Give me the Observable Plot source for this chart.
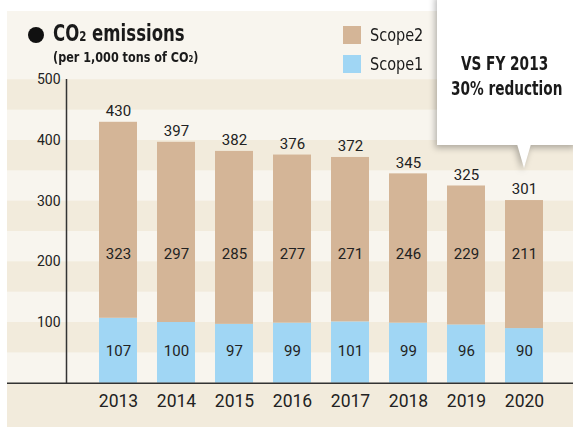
<!DOCTYPE html>
<html>
<head>
<meta charset="utf-8">
<script src="https://cdn.jsdelivr.net/npm/d3@7"></script>
<script src="https://cdn.jsdelivr.net/npm/@observablehq/plot@0.6"></script>
<style>
  html, body { margin: 0; padding: 0; background: #ffffff; }
  body { width: 573px; height: 427px; position: relative; overflow: hidden; }
  #panel { position: absolute; left: 7px; top: 11px; width: 566px; height: 416px; background: #f8f5ee; }
  #chart { position: absolute; left: 0; top: 0; }
  .narrow { font-family: "Liberation Sans Narrow", "DejaVu Sans Condensed", "Roboto", sans-serif; color: #1a1a1a; }
  .sq { display: inline-block; transform-origin: left center; white-space: nowrap; }
  #bullet { position: absolute; left: 28px; top: 27px; width: 16px; height: 16px; border-radius: 50%; background: #111; }
  #title { position: absolute; left: 53px; top: 22px; font-size: 23px; font-weight: bold; line-height: 23px; white-space: nowrap; }
  #title .sq { transform: scaleX(0.8); }
  #subtitle { position: absolute; left: 53px; top: 50px; font-size: 14.5px; font-weight: bold; line-height: 15px; white-space: nowrap; }
  #subtitle .sq { transform: scaleX(0.86); }
  .sub { font-size: 0.62em; }
  #legend { position: absolute; left: 343px; top: 26px; }
  .lg { display: flex; align-items: center; height: 18px; margin-bottom: 11px; }
  .sw { width: 18px; height: 18px; margin-right: 9px; flex: none; }
  .lt { font-size: 18.5px; line-height: 18px; white-space: nowrap; display: inline-block; transform: scaleX(0.87); transform-origin: left center; }
  #callout { position: absolute; left: 437px; top: -6px; width: 140px; height: 151px; filter: drop-shadow(-2px 3px 3px rgba(0,0,0,0.28)); }
  #box { position: absolute; left: 0; top: 0; width: 140px; height: 151px; background: #fff; }
  #ptr { position: absolute; top: 150px; width: 0; height: 0; border-left: 7px solid transparent; border-right: 7px solid transparent; border-top: 24px solid #fff; }
  #ctext { position: absolute; left: 0; top: 57px; width: 136px; text-align: center; font-size: 19px; font-weight: bold; line-height: 25px; white-space: nowrap; }
  #ctext .sq { transform: scaleX(0.8); transform-origin: center center; }
</style>
</head>
<body>
<div id="panel"></div>
<div id="chart"></div>
<div id="bullet"></div>
<div id="title" class="narrow"><span class="sq">CO<span class="sub">2</span> emissions</span></div>
<div id="subtitle" class="narrow"><span class="sq">(per 1,000 tons of CO<span class="sub">2</span>)</span></div>
<div id="legend" class="narrow"></div>
<div id="callout" class="narrow"><div id="box"></div><div id="ptr"></div><div id="ctext"><span class="sq">VS FY 2013</span><br><span class="sq">30% reduction</span></div></div>
<script>
// ---- data ----
const years = ["2013", "2014", "2015", "2016", "2017", "2018", "2019", "2020"];
const scope1 = [107, 100, 97, 99, 101, 99, 96, 90];
const scope2 = [323, 297, 285, 277, 271, 246, 229, 211];
const totals = [430, 397, 382, 376, 372, 345, 325, 301];
const yTicks = [100, 200, 300, 400, 500];
const seriesNames = ["Scope1", "Scope2"];
const legendOrder = ["Scope2", "Scope1"];
const seriesColors = ["#a0d6f4", "#d4b597"];
const shadedBands = [[50, 100], [150, 200], [250, 300], [350, 400], [450, 500]];

// ---- layout ----
const W = 573, H = 427;
const mL = 66, mT = 79.3, mB = 44.3, panelLeft = 7;
const bandFill = "#f2ebdc";
const ink = "#222";
const scope1LabelY = 53.5, scope2LabelY = 212;

const long = years.flatMap((yr, i) => [
  {year: yr, scope: "Scope1", value: scope1[i]},
  {year: yr, scope: "Scope2", value: scope2[i]}
]);
const totalRows = years.map((yr, i) => ({year: yr, total: totals[i]}));
const s1Rows = years.map((yr, i) => ({year: yr, v: scope1[i]}));
const s2Rows = years.map((yr, i) => ({year: yr, v: scope2[i]}));

const chart = Plot.plot({
  width: W, height: H,
  marginLeft: mL, marginRight: 0, marginTop: mT, marginBottom: mB,
  style: {background: "transparent", fontFamily: "Roboto, sans-serif", color: ink, overflow: "visible"},
  x: {type: "band", domain: years, range: [76.5, 564.4], padding: 0.35, label: null},
  y: {domain: [0, 500], label: null},
  color: {domain: seriesNames, range: seriesColors},
  marks: [
    Plot.rectY(shadedBands, {y1: d => d[0], y2: d => d[1], fill: bandFill, insetLeft: -(mL - panelLeft)}),
    Plot.rectY([0], {y1: 0, y2: 0, fill: bandFill, insetLeft: -(mL - panelLeft), insetBottom: -mB}),
    Plot.barY(long, {x: "year", y: "value", fill: "scope", order: seriesNames}),
    Plot.text(totalRows, {x: "year", y: "total", text: d => String(d.total), dy: -11, fontSize: 15, fill: ink}),
    Plot.text(s2Rows, {x: "year", y: () => scope2LabelY, text: d => String(d.v), fontSize: 15, fill: ink}),
    Plot.text(s1Rows, {x: "year", y: () => scope1LabelY, text: d => String(d.v), fontSize: 15, fill: ink}),
    Plot.axisY({ticks: yTicks, tickSize: 0, tickPadding: 6, fontSize: 14, label: null, fill: ink}),
    Plot.axisX({tickSize: 0, tickPadding: 11, fontSize: 17.5, label: null, fill: ink}),
    Plot.frame({anchor: "left", stroke: "#333", strokeWidth: 1.5}),
    Plot.ruleY([0], {stroke: "#333", strokeWidth: 1.5, insetLeft: -(mL - panelLeft)})
  ]
});
document.getElementById("chart").appendChild(chart);

// legend
const legend = document.getElementById("legend");
const color = chart.scale("color");
legendOrder.forEach(name => {
  const row = document.createElement("div");
  row.className = "lg";
  const sw = document.createElement("div");
  sw.className = "sw";
  sw.style.background = seriesColors[color.domain.indexOf(name)];
  const t = document.createElement("div");
  t.className = "lt";
  t.textContent = name;
  row.appendChild(sw); row.appendChild(t);
  legend.appendChild(row);
});

// callout pointer aimed at the last bar
const xs = chart.scale("x");
const lastX = xs.apply(years[years.length - 1]) + xs.bandwidth / 2;
document.getElementById("ptr").style.left = (lastX - 437 - 7) + "px";
</script>
</body>
</html>
